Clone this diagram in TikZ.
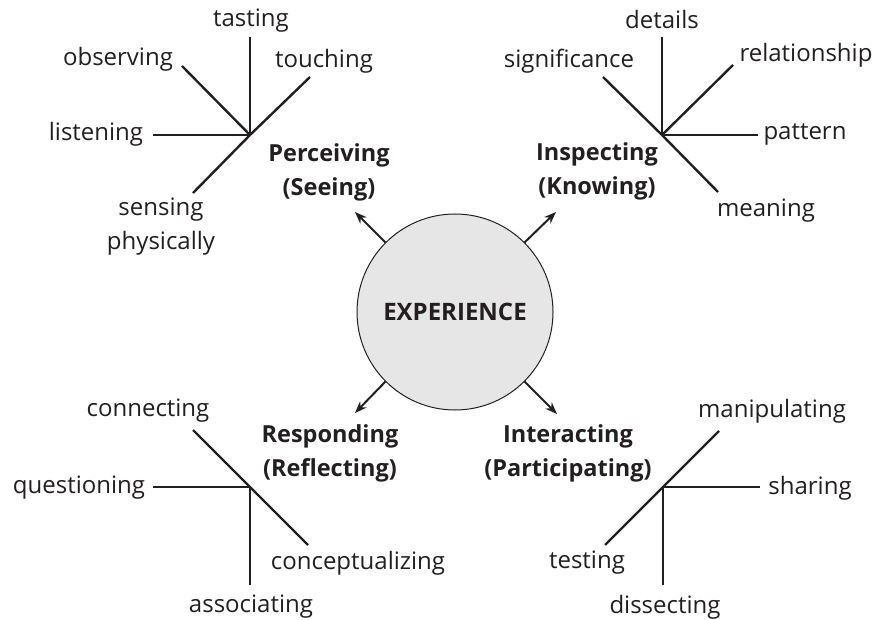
\documentclass[tikz,border=0pt]{standalone}
\usepackage{fontspec}
\setmainfont{Open Sans}
\usetikzlibrary{arrows.meta}
\definecolor{ink}{HTML}{231F20}
\definecolor{disc}{HTML}{E6E6E6}
\begin{document}
\begin{tikzpicture}[x=1pt,y=-1pt,
  word/.style={text=ink,inner sep=0pt,font=\fontsize{24}{28}\selectfont},
  phase/.style={text=ink,inner sep=0pt,align=center,font=\fontsize{23.5}{34}\selectfont\bfseries},
  branch/.style={line width=2.4pt,ink},
  pointer/.style={line width=2pt,ink,-{Stealth[length=12pt,width=9pt]}}]
\useasboundingbox (0,0) rectangle (875,620);

% central disc
\node[circle,draw=ink,line width=1pt,fill=disc,minimum size=196pt,inner sep=0pt] (exp) at (455,312) {};
\node[text=ink,font=\fontsize{24}{28}\selectfont\bfseries] (explbl) at (455,312) {EXPERIENCE};

% phase labels
\node[phase] (perc) at (329,172) {Perceiving\\(Seeing)};
\node[phase] (insp) at (597,171) {Inspecting\\(Knowing)};
\node[phase] (resp) at (330,453) {Responding\\(Reflecting)};
\node[phase] (intr) at (568,453) {Interacting\\(Participating)};

% arrow tips
\coordinate (tUL) at (355,212);
\coordinate (tUR) at (556,212);
\coordinate (tLL) at (355,413);
\coordinate (tLR) at (557,414);
\draw[pointer] (exp.135) -- (tUL);
\draw[pointer] (exp.45) -- (tUR);
\draw[pointer] (exp.225) -- (tLL);
\draw[pointer] (exp.-45) -- (tLR);

% Perceiving branch
\coordinate (hP) at (250,135);
\coordinate (eTas) at (250,37);
\coordinate (eObs) at (182,66);
\coordinate (eTou) at (310,77);
\coordinate (eLis) at (153,135);
\coordinate (eSen) at (193,193);
\node[word] (tasting) at (251,21) {tasting};
\node[word] (observing) at (118,59) {observing};
\node[word] (touching) at (324,61) {touching};
\node[word] (listening) at (96,134) {listening};
\node[word,align=center,font=\fontsize{24}{34}\selectfont] (sensing) at (161,227) {sensing\\physically};
\draw[branch] (hP) -- (eTas);
\draw[branch] (hP) -- (eObs);
\draw[branch] (hP) -- (eTou);
\draw[branch] (hP) -- (eLis);
\draw[branch] (hP) -- (eSen);

% Inspecting branch
\coordinate (hI) at (662,135);
\coordinate (eDet) at (662,37);
\coordinate (eSig) at (603,77);
\coordinate (eRel) at (733,65);
\coordinate (ePat) at (758,135);
\coordinate (eMea) at (718,192);
\node[word] (details) at (662,20) {details};
\node[word] (signif) at (569,61) {significance};
\node[word] (relat) at (806,55) {relationship};
\node[word] (pattern) at (805,134) {pattern};
\node[word] (meaning) at (766,211) {meaning};
\draw[branch] (hI) -- (eDet);
\draw[branch] (hI) -- (eSig);
\draw[branch] (hI) -- (eRel);
\draw[branch] (hI) -- (ePat);
\draw[branch] (hI) -- (eMea);

% Responding branch
\coordinate (hR) at (250,487);
\coordinate (eCon) at (193,430);
\coordinate (eCcp) at (308,545);
\coordinate (eQue) at (153,487);
\coordinate (eAss) at (250,585);
\node[word] (connect) at (148,411) {connecting};
\node[word] (question) at (79,488) {questioning};
\node[word] (assoc) at (251,607) {associating};
\node[word] (concept) at (358,563) {conceptualizing};
\draw[branch] (eCon) -- (eCcp);
\draw[branch] (hR) -- (eQue);
\draw[branch] (hR) -- (eAss);

% Interacting branch
\coordinate (hT) at (663,487);
\coordinate (eMan) at (719,431);
\coordinate (eTes) at (605,545);
\coordinate (eSha) at (760,487);
\coordinate (eDis) at (663,585);
\node[word] (manip) at (772,411) {manipulating};
\node[word] (testing) at (587,563) {testing};
\node[word] (sharing) at (810,488) {sharing};
\node[word] (dissect) at (665,607) {dissecting};
\draw[branch] (eMan) -- (eTes);
\draw[branch] (hT) -- (eSha);
\draw[branch] (hT) -- (eDis);
\end{tikzpicture}
\end{document}
